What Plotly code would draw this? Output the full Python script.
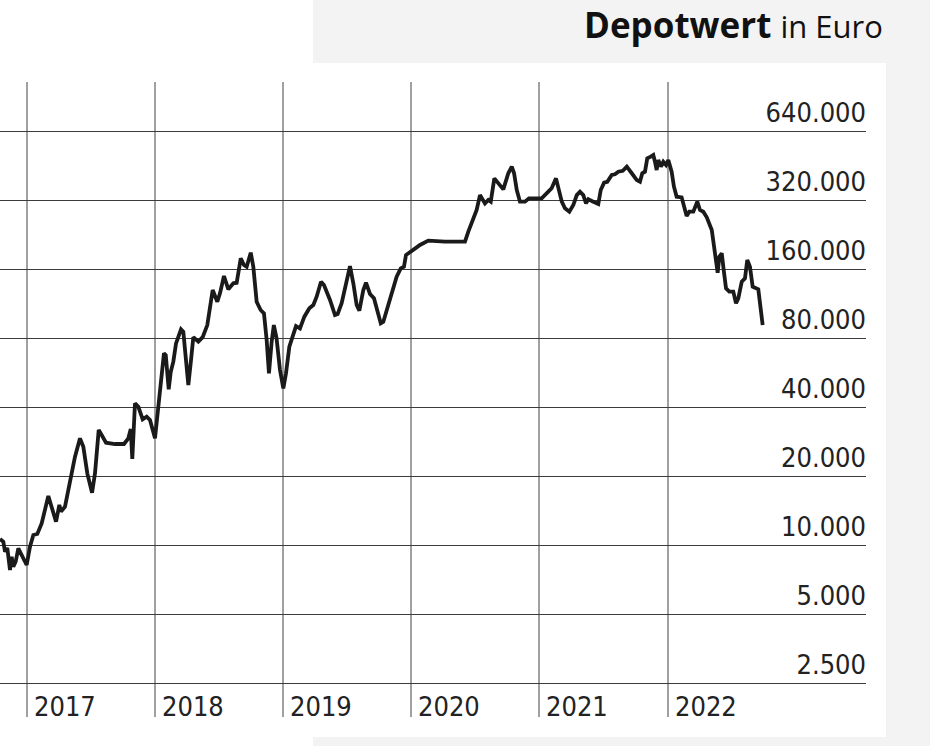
import plotly.graph_objects as go

# Decimal years and portfolio value in Euro
years = [2016.792, 2016.818, 2016.831, 2016.849, 2016.870, 2016.883, 2016.896, 2016.914, 2016.935, 2016.961,
         2017.000, 2017.026, 2017.052, 2017.083, 2017.117, 2017.169, 2017.203, 2017.229, 2017.255, 2017.268,
         2017.299, 2017.338, 2017.377, 2017.416, 2017.442, 2017.473, 2017.510, 2017.533, 2017.562, 2017.585,
         2017.619, 2017.689, 2017.759, 2017.793, 2017.812, 2017.824, 2017.845, 2017.871, 2017.905, 2017.936,
         2017.962, 2018.001, 2018.022, 2018.045, 2018.071, 2018.085, 2018.108, 2018.124, 2018.144, 2018.165,
         2018.204, 2018.222, 2018.237, 2018.261, 2018.282, 2018.300, 2018.339, 2018.373, 2018.409, 2018.451,
         2018.487, 2018.508, 2018.539, 2018.573, 2018.612, 2018.638, 2018.670, 2018.695, 2018.716, 2018.748,
         2018.768, 2018.794, 2018.825, 2018.851, 2018.872, 2018.890, 2018.911, 2018.928, 2018.949, 2018.976,
         2019.002, 2019.023, 2019.049, 2019.075, 2019.101, 2019.132, 2019.166, 2019.205, 2019.236, 2019.262,
         2019.296, 2019.319, 2019.366, 2019.405, 2019.426, 2019.457, 2019.496, 2019.522, 2019.548, 2019.574,
         2019.595, 2019.626, 2019.647, 2019.678, 2019.709, 2019.735, 2019.762, 2019.782, 2019.813, 2019.848,
         2019.886, 2019.918, 2019.943, 2019.959, 2019.990, 2020.042, 2020.068, 2020.133, 2020.263, 2020.419,
         2020.445, 2020.484, 2020.510, 2020.536, 2020.554, 2020.575, 2020.601, 2020.620, 2020.648, 2020.679,
         2020.718, 2020.757, 2020.784, 2020.802, 2020.823, 2020.848, 2020.887, 2020.918, 2021.017, 2021.069,
         2021.095, 2021.129, 2021.155, 2021.174, 2021.199, 2021.233, 2021.264, 2021.291, 2021.316, 2021.342,
         2021.363, 2021.381, 2021.420, 2021.459, 2021.478, 2021.504, 2021.529, 2021.550, 2021.564, 2021.589,
         2021.615, 2021.650, 2021.681, 2021.720, 2021.759, 2021.784, 2021.802, 2021.823, 2021.841, 2021.868,
         2021.888, 2021.901, 2021.914, 2021.927, 2021.948, 2021.966, 2021.987, 2022.005, 2022.031, 2022.049,
         2022.070, 2022.109, 2022.127, 2022.148, 2022.169, 2022.200, 2022.231, 2022.252, 2022.278, 2022.305,
         2022.344, 2022.369, 2022.390, 2022.403, 2022.422, 2022.434, 2022.455, 2022.481, 2022.512, 2022.533,
         2022.551, 2022.578, 2022.603, 2022.621, 2022.642, 2022.663, 2022.689, 2022.707, 2022.741]

depotwert = [10620, 10340, 9350, 9700, 7780, 8890, 8040, 8450, 9670, 9050,
             8180, 9830, 11060, 11170, 12430, 16360, 14310, 12640, 14950, 13980,
             14690, 18580, 24280, 29200, 26840, 20540, 16910, 20540, 31740, 30200,
             27960, 27580, 27580, 29200, 32060, 23730, 41500, 40100, 35340, 36300,
             35100, 29200, 37560, 52500, 68600, 67400, 47800, 57000, 63100, 75800,
             87300, 85200, 68600, 49900, 64100, 80700, 77100, 80700, 91100, 129600,
             115200, 125300, 149100, 130500, 138600, 139400, 178100, 166600, 163700, 188500,
             163700, 115200, 106000, 102500, 78400, 56100, 77100, 91100, 80000, 58000,
             48200, 56100, 73300, 82400, 90200, 88100, 99100, 107800, 111400, 121100,
             140800, 136200, 117200, 100800, 101800, 113400, 138600, 164800, 138600, 111400,
             105300, 129600, 139400, 124500, 119200, 104200, 92700, 94200, 107800, 127400,
             148100, 161100, 163700, 184200, 190400, 198900, 203700, 212700, 210600, 210600,
             232800, 266200, 289400, 336300, 325400, 309400, 320000, 314600, 397800, 378600,
             356200, 418600, 447400, 418600, 353900, 314600, 314600, 325400, 325400, 347800,
             360000, 397800, 353900, 314600, 294400, 284600, 304300, 336300, 347800, 336300,
             309400, 322200, 314600, 307400, 353900, 380800, 384300, 397800, 411500, 414400,
             425300, 429400, 447400, 418600, 391100, 384300, 418600, 425300, 486400, 494400,
             502700, 470100, 432600, 478400, 447400, 470100, 454700, 478400, 425300, 365800,
             330900, 328600, 304300, 272500, 284600, 284600, 314600, 289400, 284600, 269000,
             236800, 187400, 154200, 181100, 187400, 163700, 131800, 127400, 127400, 113400,
             119200, 140800, 145600, 175200, 163700, 134000, 131800, 130500, 91100]

x_tickvals = [2017, 2018, 2019, 2020, 2021, 2022]
x_ticktext = ["2017", "2018", "2019", "2020", "2021", "2022"]
y_tickvals = [2500, 5000, 10000, 20000, 40000, 80000, 160000, 320000, 640000]
y_ticktext = ["2.500", "5.000", "10.000", "20.000", "40.000", "80.000", "160.000", "320.000", "640.000"]

W, H = 930, 746
ML, MR, MT, MB = 0, 64, 82, 29
PW, PH = W - ML - MR, H - MT - MB

def px(xp):
    return (xp - ML) / PW

def py(yp):
    return (H - MB - yp) / PH

TICKFONT = "Liberation Sans Narrow, DejaVu Sans Condensed, Roboto Condensed, Roboto, sans-serif"
TICKSIZE = 27

fig = go.Figure()
fig.add_trace(go.Scatter(
    x=years, y=depotwert, mode="lines",
    line=dict(color="#1a1a1a", width=3.8),
    hoverinfo="skip", showlegend=False,
))

year_annotations = [
    dict(x=xv, xref="x", y=py(718), yref="paper", text=tt,
         xanchor="left", yanchor="bottom", xshift=5, yshift=-6, showarrow=False,
         font=dict(family=TICKFONT, size=TICKSIZE, color="#222222"))
    for xv, tt in zip(x_tickvals, x_ticktext)
]

fig.update_layout(
    width=W, height=H,
    margin=dict(l=ML, r=MR, t=MT, b=MB, pad=0),
    paper_bgcolor="#f3f3f3",
    plot_bgcolor="rgba(0,0,0,0)",
    showlegend=False,
    xaxis=dict(
        range=[2016.792, 2016.792 + PW / 128.2],
        tickvals=x_tickvals, ticktext=x_ticktext,
        showgrid=True, gridcolor="#a0a0a0", gridwidth=2,
        zeroline=False, showline=False, ticks="",
        showticklabels=False,
        fixedrange=True,
    ),
    yaxis=dict(
        type="log",
        range=[3.2496, 6.020],
        side="right",
        tickvals=y_tickvals, ticktext=y_ticktext,
        showgrid=True, gridcolor="#3c3c3c", gridwidth=1,
        zeroline=False, showline=False, ticks="",
        ticklabelposition="inside top",
        ticklabelstandoff=-3,
        tickfont=dict(family=TICKFONT, size=TICKSIZE, color="#222222"),
        fixedrange=True,
    ),
    shapes=[
        dict(type="rect", xref="paper", yref="paper", layer="below",
             x0=px(-5), x1=px(313), y0=py(H + 5), y1=py(-5),
             fillcolor="white", line=dict(width=0)),
        dict(type="rect", xref="paper", yref="paper", layer="below",
             x0=px(-5), x1=px(886), y0=py(737), y1=py(63),
             fillcolor="white", line=dict(width=0)),
    ],
    annotations=year_annotations + [
        dict(xref="paper", yref="paper", x=px(885), y=py(24),
             xanchor="right", yanchor="middle", showarrow=False,
             text="<b>Depotwert</b> <span style='font-size:31px'>in Euro</span>",
             font=dict(family="Open Sans, Roboto, sans-serif", size=35, color="#111111")),
    ],
)

fig.write_html("out.html",
               config={"displayModeBar": False, "staticPlot": True},
               post_script="document.body.style.margin='0';document.body.style.padding='0';")
